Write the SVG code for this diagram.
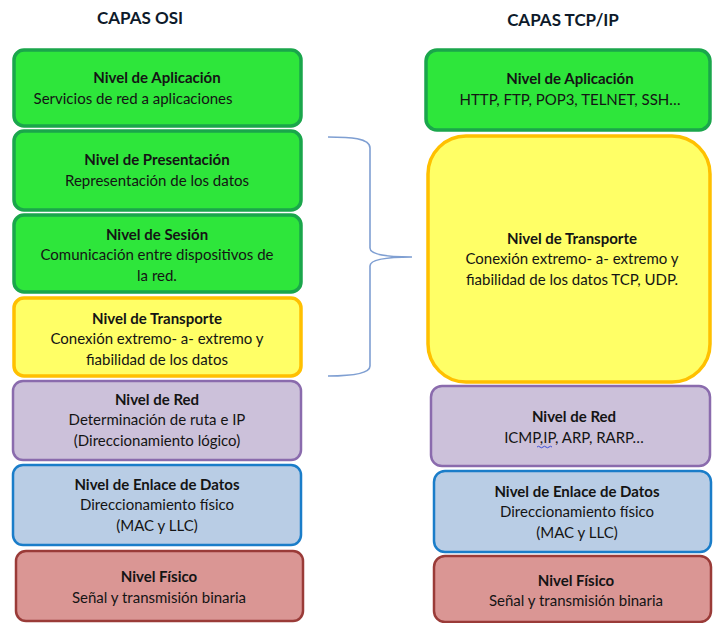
<svg xmlns="http://www.w3.org/2000/svg" width="713" height="623" viewBox="0 0 713 623">
  <style>
    text { font-family: Lato, "Liberation Sans", sans-serif; fill: #141414; text-anchor: middle; }
    .head { font-size: 17px; font-weight: bold; fill: #0d1a2a; }
    .t { font-size: 15px; font-weight: bold; }
    .s { font-size: 15px; }
    .green rect { fill: #2ee63b; stroke: #1aa64b; stroke-width: 3.5; }
    .yellow rect { fill: #ffff66; stroke: #ffc000; stroke-width: 3.5; }
    .purple rect { fill: #ccc1da; stroke: #8a6bad; stroke-width: 2.5; }
    .blue rect { fill: #b9cde5; stroke: #1a7dc9; stroke-width: 2.5; }
    .red rect { fill: #da9694; stroke: #9a3b38; stroke-width: 2.5; }
    .brace { fill: none; stroke: #7f9fd2; stroke-width: 1.6; }
  </style>

  <!-- column headings -->
  <text class="head" x="140" y="24">CAPAS OSI</text>
  <text class="head" x="563" y="26">CAPAS TCP/IP</text>

  <!-- OSI model stack -->
  <g id="osi-aplicacion" class="green">
    <rect x="14" y="50" width="287" height="76" rx="10"/>
    <text class="t" x="157" y="83">Nivel de Aplicación</text>
    <text class="s" x="133" y="104">Servicios de red a aplicaciones</text>
  </g>
  <g id="osi-presentacion" class="green">
    <rect x="14" y="131" width="287" height="79" rx="10"/>
    <text class="t" x="157" y="165">Nivel de Presentación</text>
    <text class="s" x="157" y="186">Representación de los datos</text>
  </g>
  <g id="osi-sesion" class="green">
    <rect x="14" y="215" width="287" height="77" rx="10"/>
    <text class="t" x="157" y="240">Nivel de Sesión</text>
    <text class="s" x="157" y="260">Comunicación entre dispositivos de</text>
    <text class="s" x="157" y="281">la red.</text>
  </g>
  <g id="osi-transporte" class="yellow">
    <rect x="14" y="298" width="287" height="78" rx="10"/>
    <text class="t" x="157" y="324">Nivel de Transporte</text>
    <text class="s" x="157" y="344">Conexión extremo- a- extremo y</text>
    <text class="s" x="157" y="365">fiabilidad de los datos</text>
  </g>
  <g id="osi-red" class="purple">
    <rect x="13" y="381" width="288" height="79" rx="10"/>
    <text class="t" x="157" y="405">Nivel de Red</text>
    <text class="s" x="157" y="425">Determinación de ruta e IP</text>
    <text class="s" x="157" y="446">(Direccionamiento lógico)</text>
  </g>
  <g id="osi-enlace" class="blue">
    <rect x="13" y="465" width="288" height="80" rx="10"/>
    <text class="t" x="157" y="490">Nivel de Enlace de Datos</text>
    <text class="s" x="157" y="510">Direccionamiento físico</text>
    <text class="s" x="157" y="531">(MAC y LLC)</text>
  </g>
  <g id="osi-fisico" class="red">
    <rect x="16" y="551" width="287" height="70" rx="10"/>
    <text class="t" x="159" y="582">Nivel Físico</text>
    <text class="s" x="159" y="603">Señal y transmisión binaria</text>
  </g>

  <!-- brace grouping Presentación, Sesión and Transporte -->
  <g id="connectors">
    <path class="brace" d="M328,137 C350,137 370,138 370,148 L370,248 C370,254 385,257 412,257 C385,257 370,260 370,266 L370,366 C370,374 350,376 328,376"/>
  </g>

  <!-- TCP/IP model stack -->
  <g id="tcp-aplicacion" class="green">
    <rect x="426" y="50" width="284" height="80" rx="11"/>
    <text class="t" x="570" y="84">Nivel de Aplicación</text>
    <text class="s" x="570" y="105">HTTP, FTP, POP3, TELNET, SSH…</text>
  </g>
  <g id="tcp-transporte" class="yellow">
    <rect x="428" y="136" width="282" height="246" rx="38"/>
    <text class="t" x="572" y="244">Nivel de Transporte</text>
    <text class="s" x="572" y="264">Conexión extremo- a- extremo y</text>
    <text class="s" x="572" y="285">fiabilidad de los datos TCP, UDP.</text>
  </g>
  <g id="tcp-red" class="purple">
    <rect x="431" y="386" width="279" height="80" rx="11"/>
    <text class="t" x="574" y="422">Nivel de Red</text>
    <text class="s" x="574" y="443">ICMP,IP, ARP, RARP…</text>
    <path d="M537,447 q1.5,-1.5 3,0 t3,0 t3,0 t3,0 t3,0" fill="none" stroke="#3b4fd8" stroke-width="1"/>
  </g>
  <g id="tcp-enlace" class="blue">
    <rect x="434" y="471" width="277" height="81" rx="11"/>
    <text class="t" x="577" y="497">Nivel de Enlace de Datos</text>
    <text class="s" x="577" y="517">Direccionamiento físico</text>
    <text class="s" x="577" y="538">(MAC y LLC)</text>
  </g>
  <g id="tcp-fisico" class="red">
    <rect x="434" y="556" width="277" height="66" rx="11"/>
    <text class="t" x="576" y="586">Nivel Físico</text>
    <text class="s" x="576" y="606">Señal y transmisión binaria</text>
  </g>
</svg>
